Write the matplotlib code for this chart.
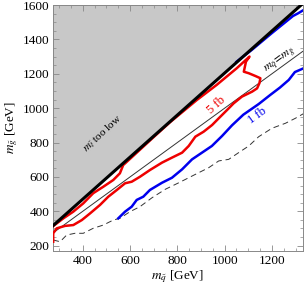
import matplotlib
matplotlib.use("Agg")
import matplotlib.pyplot as plt
import numpy as np

plt.rcParams['font.family'] = ['Liberation Serif', 'DejaVu Serif']
plt.rcParams['mathtext.fontset'] = 'stix'

# axis ranges
x_range = (272, 1330)
y_range = (169, 1600)

# boundary of the "m_stop too low" region
bnd_x = [272, 1330]
bnd_y = [314, 1608]

# 5 fb contour (red)
red_x = [275, 275, 290, 325, 360, 396, 431, 473, 508, 544, 579, 607, 642, 684, 735, 777,
         820, 848, 876, 911, 947, 975, 1010, 1038, 1073, 1116, 1137, 1147, 1151, 1130, 1102,
         1081, 1090, 1105, 1051, 966, 882, 769, 700, 580, 571, 557, 529, 487, 444, 402, 360, 318, 275]
red_y = [223, 272, 301, 315, 320, 349, 388, 437, 485, 524, 563, 572, 601, 640, 683, 712,
         741, 780, 834, 863, 902, 941, 989, 1028, 1067, 1096, 1115, 1145, 1174, 1187, 1203,
         1212, 1270, 1300, 1232, 1135, 1047, 918, 832, 680, 669, 621, 582, 543, 505, 446, 398, 359, 314]

# 1 fb contour (blue), lower and upper branches
blue_x = [550, 579, 607, 628, 656, 684, 735, 777, 820, 862, 904, 946, 989, 1031, 1079,
          1144, 1192, 1234, 1271, 1297, 1334]
blue_y = [359, 398, 427, 466, 485, 524, 566, 595, 644, 702, 741, 780, 838, 900, 962,
          1024, 1076, 1120, 1164, 1210, 1232]
blue_up_x = [1050, 1114, 1200, 1289, 1311, 1334]
blue_up_y = [1270, 1338, 1437, 1536, 1552, 1571]

# dashed contour
dash_x = [275, 304, 332, 367, 402, 444, 487, 529, 557, 600, 642, 693, 749, 806, 862, 933,
          975, 1017, 1059, 1102, 1144, 1200, 1257, 1299, 1336]
dash_y = [233, 223, 262, 272, 272, 301, 320, 349, 359, 398, 427, 479, 528, 566, 605, 654,
          693, 702, 741, 780, 834, 883, 912, 941, 970]
dash_up_x = [1080, 1150, 1220, 1290, 1330]
dash_up_y = [1300, 1384, 1470, 1556, 1604]

# diagonal m_squark = m_gluino
diag_x = [272, 1330]
diag_y = [272, 1330]

fig = plt.figure(figsize=(3.04, 2.92), dpi=100)
ax = fig.add_axes([52.5/304, 1 - 251/292, 250.2/304, 246/292])

bx = np.array(bnd_x, float)
by = np.array(bnd_y, float)
ax.fill_between(bx, by, y_range[1] + 100, color='#c8c8c8', lw=0, zorder=1)

ax.plot(diag_x, diag_y, color='#333333', lw=0.7, zorder=2)
ax.plot(dash_x, dash_y, color='#333333', lw=0.7, ls=(0, (6, 4)), zorder=2)
ax.plot(dash_up_x, dash_up_y, color='#333333', lw=0.7, ls=(0, (6, 4)), zorder=2)
ax.plot(red_x, red_y, color='#ee0000', lw=1.8, zorder=3, solid_joinstyle='round')
ax.plot(blue_x, blue_y, color='#0000ee', lw=1.8, zorder=3, solid_joinstyle='round')
ax.plot(blue_up_x, blue_up_y, color='#0000ee', lw=1.8, zorder=3)
ax.plot(bx, by, color='black', lw=2.2, zorder=4)

ax.set_xlim(*x_range)
ax.set_ylim(*y_range)

ax.set_xticks([400, 600, 800, 1000, 1200])
ax.set_yticks([200, 400, 600, 800, 1000, 1200, 1400, 1600])
ax.set_xticks(np.arange(300, 1331, 50), minor=True)
ax.set_yticks(np.arange(200, 1601, 50), minor=True)
ax.tick_params(which='both', direction='in', top=True, right=True, color='#888888',
               labelsize=9.5)
ax.tick_params(axis='y', pad=2)
ax.tick_params(axis='x', pad=3)
ax.tick_params(which='major', length=4, width=0.6)
ax.tick_params(which='minor', length=2, width=0.5)
for s in ax.spines.values():
    s.set_color('#888888')
    s.set_linewidth(0.7)

ax.set_xlabel(r'$m_{\tilde{q}}$ [GeV]', fontsize=9.5, labelpad=1)
ax.set_ylabel(r'$m_{\tilde{g}}$ [GeV]', fontsize=9.5, labelpad=2)

ax.text(485, 850, r'$m_{\tilde{t}}$ too low', fontsize=8, rotation=43, ha='center', va='center', zorder=5)
ax.text(1236, 1276, r'$m_{\tilde{q}}\!=\!m_{\tilde{g}}$', fontsize=8.5, rotation=36, ha='center', va='center', zorder=5)
ax.text(967, 1015, '5 fb', fontsize=9, color='#ee0000', rotation=42, ha='center', va='center', zorder=5)
ax.text(1140, 958, '1 fb', fontsize=9, color='#0000ee', rotation=36, ha='center', va='center', zorder=5)

fig.savefig('out.png', dpi=100)
